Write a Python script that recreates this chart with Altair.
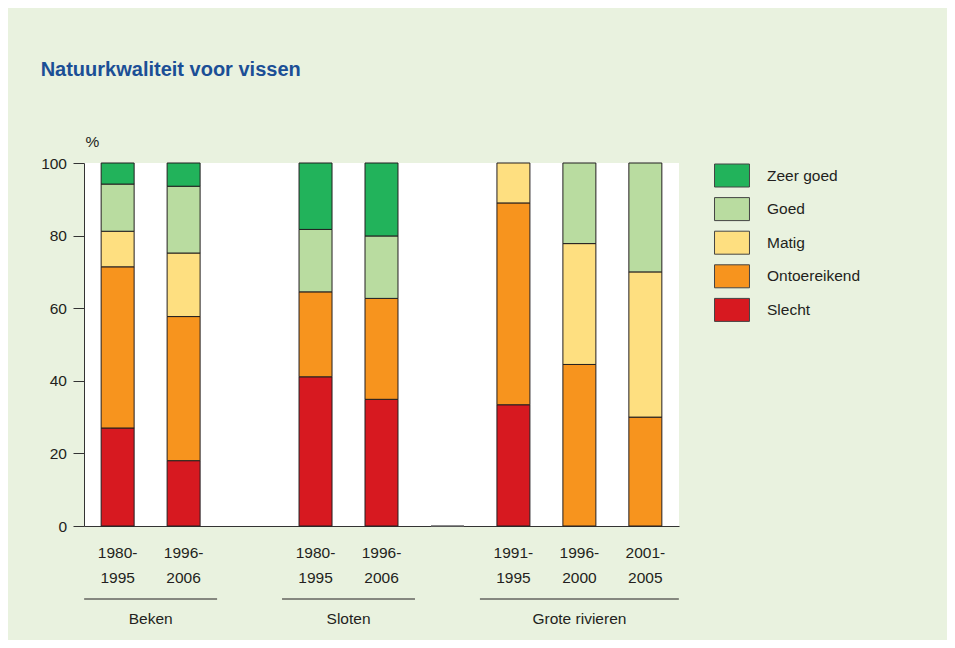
import altair as alt
import pandas as pd

# ---- data ----
slot_order = [
    "Beken 1980-1995", "Beken 1996-2006", "leeg 1",
    "Sloten 1980-1995", "Sloten 1996-2006", "leeg 2",
    "Grote rivieren 1991-1995", "Grote rivieren 1996-2000", "Grote rivieren 2001-2005",
]
bar_keys = [
    "Beken 1980-1995", "Beken 1996-2006",
    "Sloten 1980-1995", "Sloten 1996-2006",
    "Grote rivieren 1991-1995", "Grote rivieren 1996-2000", "Grote rivieren 2001-2005",
]
period_labels = ["1980-\n1995", "1996-\n2006", "1980-\n1995", "1996-\n2006",
                 "1991-\n1995", "1996-\n2000", "2001-\n2005"]

klassen = ["Zeer goed", "Goed", "Matig", "Ontoereikend", "Slecht"]
kleuren = ["#22B35B", "#B9DCA0", "#FEDF80", "#F7941E", "#D71920"]

slecht       = [27.0, 18.0, 41.1, 34.9, 33.4, 0.0, 0.0]
ontoereikend = [44.4, 39.7, 23.4, 27.8, 55.6, 44.5, 30.0]
matig        = [9.8, 17.5, 0.0, 0.0, 11.0, 33.3, 40.0]
goed         = [13.0, 18.4, 17.2, 17.2, 0.0, 22.2, 30.0]
zeer_goed    = [5.8, 6.4, 18.3, 20.1, 0.0, 0.0, 0.0]

group_names = ["Beken", "Sloten", "Grote rivieren"]
group_first = ["Beken 1980-1995", "Sloten 1980-1995", "Grote rivieren 1991-1995"]
group_last = ["Beken 1996-2006", "Sloten 1996-2006", "Grote rivieren 2001-2005"]
group_size = [2, 2, 3]

empty_slot = ["leeg 2"]

# ---- tables ----
series = {"Slecht": slecht, "Ontoereikend": ontoereikend, "Matig": matig,
          "Goed": goed, "Zeer goed": zeer_goed}
stack_rank = {"Slecht": 0, "Ontoereikend": 1, "Matig": 2, "Goed": 3, "Zeer goed": 4}
rows = []
for k, vals in series.items():
    for key, v in zip(bar_keys, vals):
        if v > 0:
            rows.append({"slot": key, "klasse": k, "waarde": v, "rang": stack_rank[k]})
df = pd.DataFrame(rows)
df_labels = pd.DataFrame({"slot": bar_keys, "periode": period_labels})
df_groups = pd.DataFrame({"groep": group_names, "eerste": group_first,
                          "laatste": group_last, "n": group_size})
df_empty = pd.DataFrame({"slot": empty_slot, "waarde": [0.0]})

FONT = "Liberation Sans, Arial, sans-serif"
TXT = "#231F20"
FS = 15.5
W, H = 595, 363

xscale = alt.Scale(domain=slot_order, paddingInner=0.5, paddingOuter=0.26)
yscale = alt.Scale(domain=[0, 100], nice=False)

xaxis = alt.Axis(labels=False, ticks=False, title=None, domainColor="#333333",
                 domainWidth=1)
yaxis = alt.Axis(
    values=[0, 10, 20, 30, 40, 50, 60, 70, 80, 90, 100],
    labelExpr="datum.value % 20 == 0 ? datum.label : ''",
    tickSize={"condition": {"test": "datum.value % 20 == 0", "value": 11}, "value": 5},
    tickColor="#333333", domainColor="#333333", grid=False,
    labelFont=FONT, labelFontSize=FS, labelColor=TXT, labelPadding=6.5,
    title="%", titleAngle=0, titleAlign="left", titleBaseline="alphabetic",
    titleX=1, titleY=-17, titleFont=FONT, titleFontSize=FS,
    titleFontWeight="normal", titleColor=TXT,
)

bars = alt.Chart(df).mark_bar(stroke="#231F20", strokeWidth=1).encode(
    x=alt.X("slot:N", scale=xscale, axis=xaxis),
    y=alt.Y("waarde:Q", stack="zero", scale=yscale, axis=yaxis),
    color=alt.Color("klasse:N", scale=alt.Scale(domain=klassen, range=kleuren),
                    legend=alt.Legend(
                        title=None, orient="none", legendX=636, legendY=0.5,
                        symbolType="M-1.52,-1L1.52,-1L1.52,1L-1.52,1Z",
                        symbolSize=529, symbolStrokeColor="#444444",
                        symbolStrokeWidth=1, symbolOpacity=1,
                        labelFont=FONT, labelFontSize=FS, labelColor=TXT,
                        labelOffset=23, rowPadding=5.6, padding=0)),
    order=alt.Order("rang:Q"),
)

empty = alt.Chart(df_empty).mark_bar(stroke="#666666", strokeWidth=1.5,
                                     fillOpacity=0).encode(
    x=alt.X("slot:N", scale=xscale),
    y=alt.Y("waarde:Q", scale=yscale),
)

plabels = alt.Chart(df_labels).mark_text(
    lineBreak="\n", baseline="top", align="center", font=FONT, fontSize=FS,
    lineHeight=25, color=TXT).encode(
    x=alt.X("slot:N", scale=xscale),
    y=alt.value(383),
    text="periode:N",
)

grules = alt.Chart(df_groups).mark_rule(color="#231F20", strokeWidth=1,
                                        xOffset=-33.5, x2Offset=33.5).encode(
    x=alt.X("eerste:N", scale=xscale),
    x2="laatste:N",
    y=alt.value(436),
)

glabels2 = alt.Chart(df_groups).transform_filter("datum.n == 2").mark_text(
    dx=33, baseline="top", align="center", font=FONT, fontSize=FS, color=TXT).encode(
    x=alt.X("eerste:N", scale=xscale),
    y=alt.value(449),
    text="groep:N",
)
glabels3 = alt.Chart(df_groups).transform_filter("datum.n == 3").mark_text(
    dx=66, baseline="top", align="center", font=FONT, fontSize=FS, color=TXT).encode(
    x=alt.X("eerste:N", scale=xscale),
    y=alt.value(449),
    text="groep:N",
)

chart = alt.layer(bars, empty, plabels, grules, glabels2, glabels3).properties(
    width=W, height=H,
    autosize=alt.AutoSizeParams(type="none"),
    padding={"left": 76, "top": 155, "right": 268, "bottom": 114},
    background="#E9F2DF",
    title=alt.TitleParams("Natuurkwaliteit voor vissen", anchor="start",
                          font=FONT, fontSize=20, fontWeight="bold",
                          color="#1B4F96", offset=54),
).configure_view(fill="white", stroke=None)

chart.save("out.html", embed_options={"renderer": "svg", "actions": False})
